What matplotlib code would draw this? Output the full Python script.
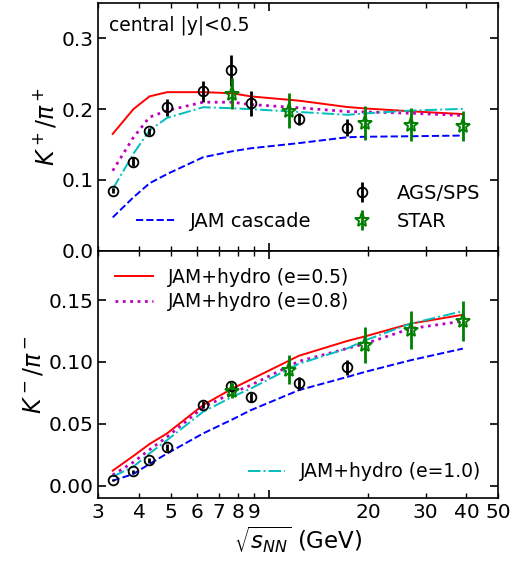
import numpy as np
import matplotlib
matplotlib.use("Agg")
import matplotlib.pyplot as plt
from matplotlib.ticker import NullFormatter, FixedLocator, FixedFormatter

# data points (AGS/SPS and STAR)
e_ags = [3.32, 3.84, 4.30, 4.87, 6.27, 7.62, 8.77, 12.3, 17.3]
kp_ags = [0.085, 0.126, 0.169, 0.203, 0.225, 0.255, 0.208, 0.186, 0.174]
kp_ags_err = [0.004, 0.007, 0.005, 0.012, 0.015, 0.022, 0.017, 0.009, 0.0125]
km_ags = [0.0045, 0.0115, 0.0207, 0.031, 0.0655, 0.0806, 0.0713, 0.0828, 0.0956]
km_ags_err = [0.001, 0.0015, 0.002, 0.003, 0.003, 0.003, 0.004, 0.0054, 0.0063]

e_star = [7.7, 11.5, 19.6, 27.0, 39.0]
kp_star = [0.222, 0.198, 0.181, 0.178, 0.176]
kp_star_err = [0.022, 0.025, 0.024, 0.023, 0.021]
km_star = [0.0768, 0.0939, 0.1135, 0.1261, 0.1331]
km_star_err = [0.006, 0.0118, 0.0145, 0.0155, 0.0165]

# model curves
e_model = [3.32, 3.84, 4.30, 4.87, 6.27, 7.7, 8.77, 12.3, 17.3, 19.6, 27.0, 39.0]

kp_e05 = [0.165, 0.200, 0.218, 0.224, 0.224, 0.2225, 0.218, 0.212, 0.203, 0.201, 0.197, 0.193]
kp_e08 = [0.113, 0.160, 0.1886, 0.198, 0.2098, 0.2098, 0.2065, 0.202, 0.1966, 0.196, 0.1943, 0.191]
kp_e10 = [0.087, 0.137, 0.170, 0.1877, 0.2027, 0.2013, 0.200, 0.196, 0.192, 0.194, 0.198, 0.2004]
kp_cas = [0.047, 0.0754, 0.0952, 0.1084, 0.132, 0.1405, 0.1447, 0.152, 0.1603, 0.161, 0.1617, 0.1627]

km_e05 = [0.0121, 0.024, 0.0336, 0.0423, 0.0651, 0.0785, 0.0858, 0.105, 0.117, 0.1207, 0.131, 0.1382]
km_e08 = [0.0086, 0.019, 0.029, 0.0395, 0.0632, 0.075, 0.0812, 0.1005, 0.111, 0.1148, 0.127, 0.133]
km_e10 = [0.0073, 0.0153, 0.026, 0.0369, 0.0597, 0.0718, 0.0785, 0.0985, 0.111, 0.1175, 0.131, 0.1411]
km_cas = [0.004, 0.0094, 0.0175, 0.026, 0.0422, 0.0535, 0.061, 0.0772, 0.0879, 0.092, 0.1014, 0.1108]

xt_vals = [3, 4, 5, 6, 7, 8, 9, 20, 30, 40, 50]
xt_labels = ["3", "4", "5", "6", "7", "8", "9", "20", "30", "40", "50"]

fig = plt.figure(figsize=(5.12, 5.65), dpi=100)
ax1 = fig.add_axes([0.192, 0.5563, 0.781, 0.4384])
ax2 = fig.add_axes([0.192, 0.1186, 0.781, 0.4377])


def style_axis(ax):
    ax.set_xscale("log")
    ax.set_xlim(3, 50)
    ax.xaxis.set_major_locator(FixedLocator([10]))
    ax.xaxis.set_major_formatter(NullFormatter())
    ax.xaxis.set_minor_locator(FixedLocator(xt_vals))
    ax.xaxis.set_minor_formatter(FixedFormatter(xt_labels))
    ax.tick_params(which="both", direction="in", top=True, right=True, labelsize=14.5)
    ax.tick_params(which="major", length=6, width=1.2)
    ax.tick_params(which="minor", length=3.5, width=1.0)
    ax.tick_params(axis="y", which="major", length=6)
    for s in ax.spines.values():
        s.set_linewidth(1.2)


lw = 1.4
for ax, kc, k5, k8, k10 in [(ax1, kp_cas, kp_e05, kp_e08, kp_e10),
                             (ax2, km_cas, km_e05, km_e08, km_e10)]:
    ax.plot(e_model, kc, "b--", lw=lw, label="JAM cascade")
    ax.plot(e_model, k5, "r-", lw=lw, label="JAM+hydro (e=0.5)")
    ax.plot(e_model, k8, "m:", lw=2.0, label="JAM+hydro (e=0.8)")
    ax.plot(e_model, k10, "c-.", lw=lw, label="JAM+hydro (e=1.0)")

h_ags = ax1.errorbar(e_ags, kp_ags, yerr=kp_ags_err, fmt="o", mfc="none", mec="k",
                     ecolor="k", ms=7, mew=1.3, elinewidth=2, capsize=0, label="AGS/SPS")
h_star = ax1.errorbar(e_star, kp_star, yerr=kp_star_err, fmt="*", mfc="none", mec="g",
                      ecolor="g", ms=11, mew=1.4, elinewidth=2, capsize=0, label="STAR")
ax2.errorbar(e_ags, km_ags, yerr=km_ags_err, fmt="o", mfc="none", mec="k",
             ecolor="k", ms=7, mew=1.3, elinewidth=2, capsize=0)
ax2.errorbar(e_star, km_star, yerr=km_star_err, fmt="*", mfc="none", mec="g",
             ecolor="g", ms=11, mew=1.4, elinewidth=2, capsize=0)

style_axis(ax1)
style_axis(ax2)
ax1.tick_params(which="both", labelbottom=False)

ax1.set_ylim(0, 0.35)
ax1.set_yticks([0.0, 0.1, 0.2, 0.3])
ax1.set_yticklabels(["0.0", "0.1", "0.2", "0.3"])
ax2.set_ylim(-0.01, 0.19)
ax2.set_yticks([0.0, 0.05, 0.10, 0.15])
ax2.set_yticklabels(["0.00", "0.05", "0.10", "0.15"])

ax1.set_ylabel(r"$K^+/\pi^+$", fontsize=17, labelpad=2)
ax2.set_ylabel(r"$K^-/\pi^-$", fontsize=17, labelpad=2)
ax2.set_xlabel(r"$\sqrt{s_{NN}}$ (GeV)", fontsize=16.5, labelpad=2)
ax1.text(0.027, 0.91, "central |y|<0.5", transform=ax1.transAxes, fontsize=13.5,
         va="center", ha="left")

lines1 = ax1.get_lines()
leg_a = ax1.legend([h_ags, h_star], ["AGS/SPS", "STAR"], loc="lower right",
                   frameon=False, fontsize=14, handlelength=2.0,
                   bbox_to_anchor=(1.0, 0.01), labelspacing=0.45)
ax1.add_artist(leg_a)
ax1.legend([lines1[0]], ["JAM cascade"], loc="lower left", frameon=False,
           fontsize=14, handlelength=2.0, bbox_to_anchor=(0.05, 0.01))

lines2 = ax2.get_lines()
leg_b = ax2.legend([lines2[1], lines2[2]], ["JAM+hydro (e=0.5)", "JAM+hydro (e=0.8)"],
                   loc="upper left", frameon=False, fontsize=13.5, handlelength=2.0,
                   bbox_to_anchor=(0.0, 1.0), labelspacing=0.3)
ax2.add_artist(leg_b)
ax2.legend([lines2[3]], ["JAM+hydro (e=1.0)"], loc="lower right", frameon=False,
           fontsize=13.5, handlelength=2.0, bbox_to_anchor=(1.0, 0.0))

fig.savefig("out.png", dpi=100)
